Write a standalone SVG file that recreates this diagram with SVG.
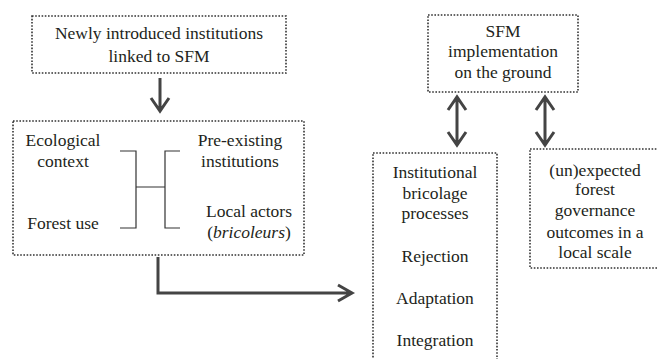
<svg xmlns="http://www.w3.org/2000/svg" width="657" height="359" viewBox="0 0 657 359">
<style>
.box{fill:none;stroke:#333;stroke-width:1.6;stroke-dasharray:1.6 1.6}
text{font-size:17.5px;fill:#231f20;text-anchor:middle}
.thin{fill:none;stroke:#333;stroke-width:1.2}
.arr{fill:none;stroke:#444;stroke-width:3}
</style>
<rect width="657" height="359" fill="#fff"/>
<g font-family="Liberation Serif, Times New Roman, Times, serif">
<g id="newly">
<rect class="box" x="32" y="16" width="254" height="57"/>
<text x="159" y="39">Newly introduced institutions</text>
<text x="159" y="62">linked to SFM</text>
</g>
<g id="context">
<rect class="box" x="13" y="121" width="291" height="134"/>
<text x="63" y="146">Ecological</text>
<text x="63" y="167">context</text>
<text x="240" y="146">Pre-existing</text>
<text x="240" y="167">institutions</text>
<text x="63" y="229">Forest use</text>
<text x="249" y="217">Local actors</text>
<text x="249" y="238">(<tspan font-style="italic">bricoleurs</tspan>)</text>
<path class="thin" d="M120 151H136V228H120M180 151H165V228H180M136 187H165"/>
</g>
<g id="sfm">
<rect class="box" x="428" y="15" width="150" height="77"/>
<text x="503" y="37">SFM</text>
<text x="503" y="57">implementation</text>
<text x="503" y="78">on the ground</text>
</g>
<g id="bricolage">
<rect class="box" x="373" y="153" width="124" height="215"/>
<text x="435" y="178">Institutional</text>
<text x="435" y="199">bricolage</text>
<text x="435" y="219">processes</text>
<text x="435" y="262">Rejection</text>
<text x="435" y="304">Adaptation</text>
<text x="435" y="346">Integration</text>
</g>
<g id="outcomes">
<rect class="box" x="530" y="149" width="140" height="119"/>
<text x="595" y="176">(un)expected</text>
<text x="595" y="195">forest</text>
<text x="595" y="216">governance</text>
<text x="595" y="238">outcomes in a</text>
<text x="595" y="258">local scale</text>
</g>
</g>
<g id="connectors">
<path class="arr" d="M160 78V110M151 98L160 111L169 98"/>
<path class="arr" d="M158 257V293H351M338 285L352 293L338 301"/>
<path class="arr" d="M457 98V144M448 110L457 97L466 110M448 132L457 145L466 132"/>
<path class="arr" d="M545 98V144M536 110L545 97L554 110M536 132L545 145L554 132"/>
</g>
</svg>
